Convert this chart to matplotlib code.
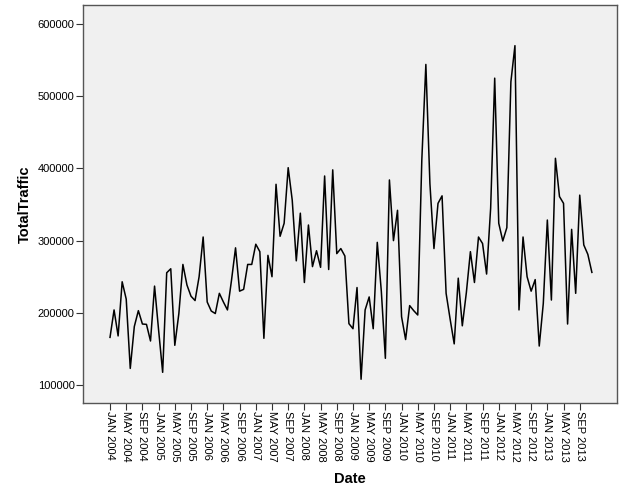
import pandas as pd
import matplotlib
matplotlib.use("Agg")
import matplotlib.pyplot as plt

plt.rcParams['font.family'] = ['Liberation Sans', 'DejaVu Sans']

# monthly total traffic, JAN 2004 - DEC 2013
traffic = [
    166000, 204000, 168000, 243000, 219000, 123000, 181000, 203000, 184500, 184000, 161000, 237000,
    176000, 117600, 255500, 261000, 155000, 199000, 267000, 238500, 223000, 217000, 250000, 305000,
    215000, 202500, 199000, 227000, 215000, 204000, 245000, 290000, 230000, 232500, 267000, 267000,
    295000, 284700, 164700, 279600, 250000, 378000, 306000, 324000, 401000, 356000, 272000, 338000,
    242000, 321600, 264000, 286000, 263000, 389500, 260000, 398000, 282000, 289000, 278700, 185000,
    178000, 235000, 108000, 204000, 222000, 178000, 297600, 230000, 137000, 384000, 300000, 342000,
    194600, 163000, 210000, 203000, 197000, 411600, 544000, 379000, 289000, 351600, 362000, 227000,
    191000, 157000, 248000, 182000, 228000, 284700, 242000, 305000, 296000, 253700, 345000, 525000,
    324000, 299500, 318000, 520000, 570000, 204000, 305000, 250000, 230000, 246000, 154000, 213000,
    328500, 217700, 414000, 361000, 351600, 184500, 315600, 227000, 363000, 294000, 281000, 256000,
]
dates = pd.date_range('2004-01-01', periods=len(traffic), freq='MS')
y_ticks = [100000, 200000, 300000, 400000, 500000, 600000]

fig = plt.figure(figsize=(6.26, 5.01), dpi=100)
ax = fig.add_axes([0.1326, 0.1956, 0.8530, 0.7944])
ax.set_facecolor('#f0f0f0')

x = list(range(len(traffic)))
ax.plot(x, traffic, color='black', linewidth=1.1)

# tick every 4 months, labels like "JAN 2004"
tick_pos = x[::4]
tick_lab = [d.strftime('%b %Y').upper() for d in dates[::4]]
ax.set_xticks(tick_pos)
ax.set_xticklabels(tick_lab, rotation=-90, fontsize=8, va='top', ha='center')
ax.set_yticks(y_ticks)
ax.set_yticklabels([str(v) for v in y_ticks], fontsize=8)

ax.set_xlim(-6.67, 125.2)
ax.set_ylim(75100, 626300)

ax.tick_params(axis='both', direction='out', length=5, width=0.8, color='#333333', pad=1)
for s in ax.spines.values():
    s.set_color('#555555')
    s.set_linewidth(1.0)

ax.set_xlabel('Date', fontsize=10.5, fontweight='bold')
ax.set_ylabel('TotalTraffic', fontsize=10.5, fontweight='bold')
ax.xaxis.set_label_coords(0.5, -0.173)
ax.yaxis.set_label_coords(-0.096, 0.5)

fig.savefig('out.png', dpi=100)
